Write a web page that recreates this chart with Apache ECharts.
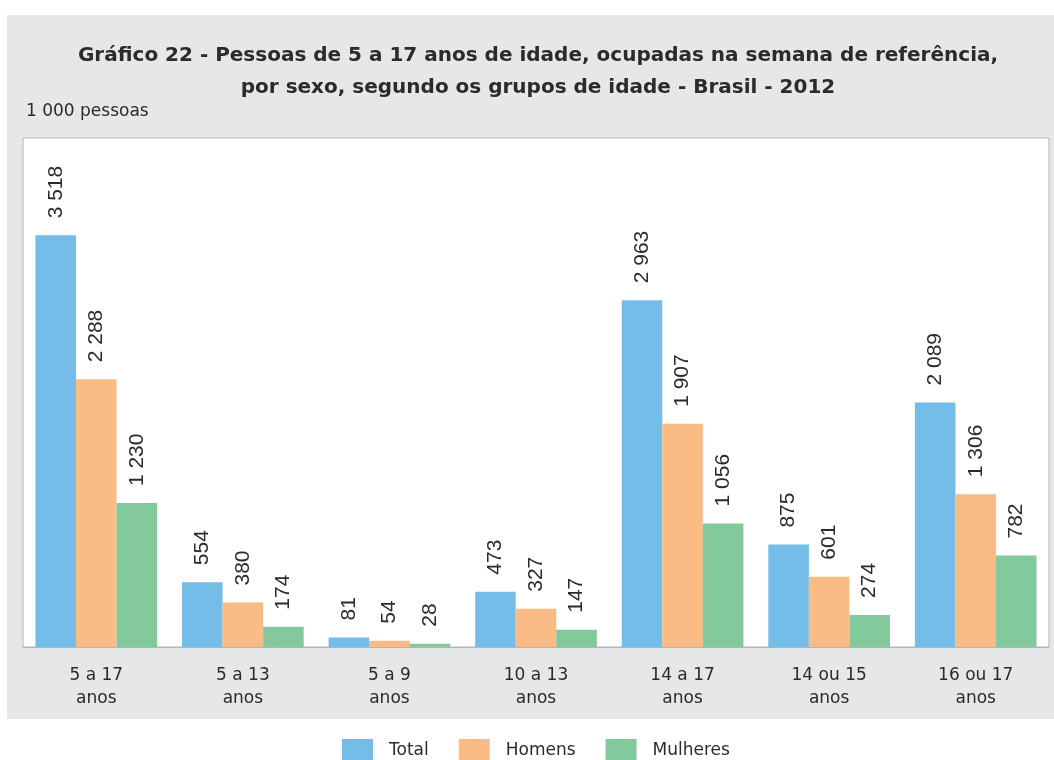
<!DOCTYPE html>
<html>
<head>
<meta charset="utf-8">
<script src="https://cdn.jsdelivr.net/npm/echarts@6/dist/echarts.min.js"></script>
<style>
  html, body { margin: 0; padding: 0; background: #fff; }
  #chart { width: 1054px; height: 760px; }
</style>
</head>
<body>
<div id="chart"></div>
<script>
// dados
const categories = ['5 a 17\nanos', '5 a 13\nanos', '5 a 9\nanos', '10 a 13\nanos', '14 a 17\nanos', '14 ou 15\nanos', '16 ou 17\nanos'];
const total = [3518, 554, 81, 473, 2963, 875, 2089];
const homens = [2288, 380, 54, 327, 1907, 601, 1306];
const mulheres = [1230, 174, 28, 147, 1056, 274, 782];

const font = '"DejaVu Sans", sans-serif';
const numFont = '"Liberation Sans", Arial, sans-serif';
const fmt = v => String(v).replace(/\B(?=(\d{3})+(?!\d))/g, ' ');

const label = {
  show: true,
  position: 'top',
  rotate: 90,
  align: 'left',
  verticalAlign: 'middle',
  distance: 17,
  fontSize: 21,
  fontFamily: numFont,
  color: '#2b2b2b',
  formatter: p => fmt(p.value)
};

function bar(name, data, color) {
  return {
    name: name,
    type: 'bar',
    data: data,
    barGap: '0%',
    barCategoryGap: '17%',
    itemStyle: { color: color },
    label: label
  };
}

const chart = echarts.init(document.getElementById('chart'));
chart.setOption({
  animation: false,
  textStyle: { fontFamily: font },
  graphic: [
    { type: 'rect', z: -10, shape: { x: 7, y: 15, width: 1047, height: 704 }, style: { fill: '#e6e7e9' } },
    {
      type: 'text', x: 538, y: 40,
      style: {
        text: 'Gráfico 22 - Pessoas de 5 a 17 anos de idade, ocupadas na semana de referência,\npor sexo, segundo os grupos de idade - Brasil - 2012',
        font: 'bold 20px ' + font, fill: '#2b2b2b', align: 'center', lineHeight: 32
      }
    },
    { type: 'text', left: 26, top: 103, style: { text: '1 000 pessoas', font: '17px ' + font, fill: '#2b2b2b' } }
  ],
  legend: {
    top: 739,
    left: 342,
    padding: 0,
    itemWidth: 31,
    itemHeight: 24,
    itemGap: 30,
    icon: 'rect',
    textStyle: { fontSize: 17, color: '#2b2b2b', fontFamily: font, padding: [0, 0, 0, 11] },
    data: ['Total', 'Homens', 'Mulheres']
  },
  grid: {
    left: 23, right: 5, top: 138, bottom: 113,
    show: true, backgroundColor: '#fff', borderColor: '#b5b5b5', borderWidth: 1
  },
  xAxis: {
    type: 'category',
    data: categories,
    axisLine: { lineStyle: { color: '#b5b5b5' } },
    axisTick: { show: false },
    axisLabel: { fontSize: 17, color: '#2b2b2b', lineHeight: 23, margin: 17, fontFamily: font }
  },
  yAxis: {
    type: 'value',
    min: 0,
    max: 4350,
    show: false,
    splitLine: { show: false }
  },
  series: [
    bar('Total', total, '#74bde8'),
    bar('Homens', homens, '#fabb85'),
    bar('Mulheres', mulheres, '#82ca9c')
  ]
});
</script>
</body>
</html>
